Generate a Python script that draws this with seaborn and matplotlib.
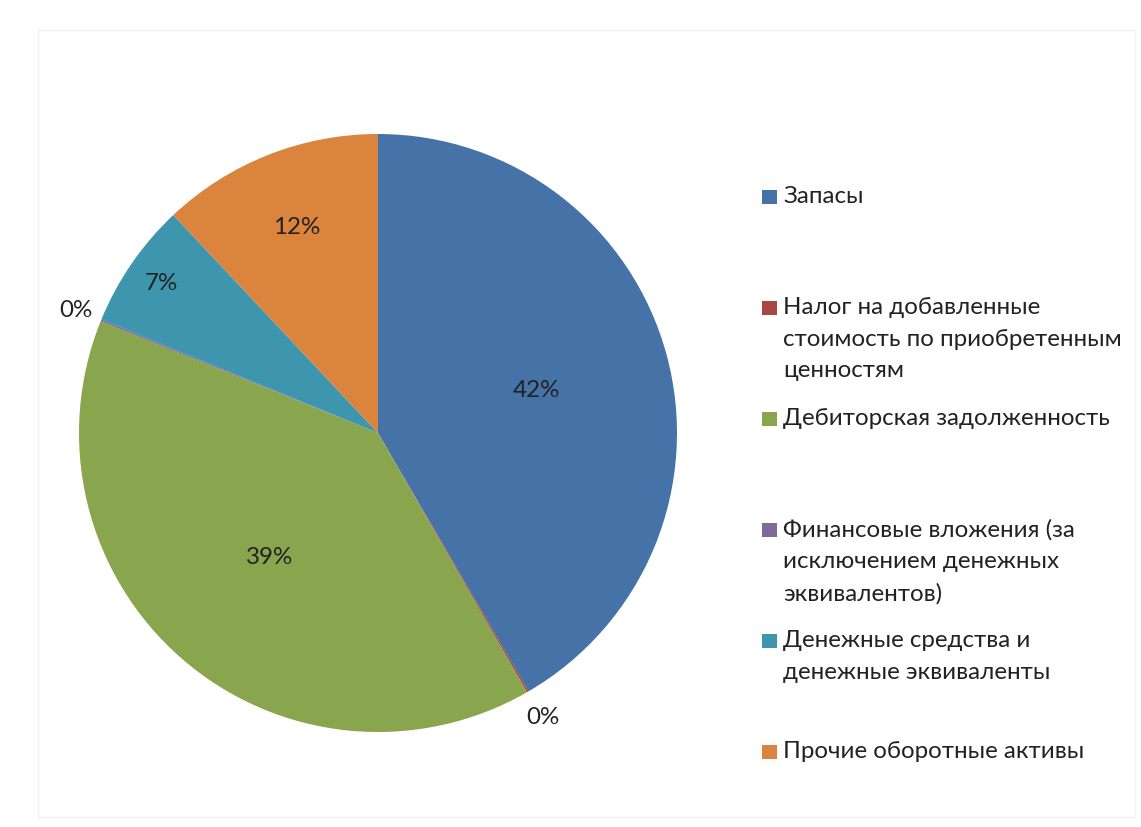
import matplotlib
matplotlib.use("Agg")
import matplotlib.pyplot as plt
import seaborn as sns
import numpy as np
from matplotlib.patches import Rectangle

sns.set_theme(style="white")
plt.rcParams['font.family'] = ['Lato', 'DejaVu Sans']

categories = [
    "Запасы",
    "Налог на добавленные\nстоимость по приобретенным\nценностям",
    "Дебиторская задолженность",
    "Финансовые вложения (за\nисключением денежных\nэквивалентов)",
    "Денежные средства и\nденежные эквиваленты",
    "Прочие оборотные активы",
]
shares = [41.6, 0.1, 39.4, 0.1, 6.8, 12.0]
colors = ["#4572A7", "#AA4643", "#89A54E", "#80699B", "#3D96AE", "#DB843D"]
# radial position of each percentage label (fraction of radius)
label_radius = [0.55, 1.10, 0.55, 1.09, 0.88, 0.74]

W, H = 1141, 827
fig = plt.figure(figsize=(W / 100, H / 100), dpi=100)
fig.patch.set_facecolor("white")

# faint outer frame of the chart area
fig.add_artist(Rectangle((38 / W, 1 - 817 / H), (1135 - 38) / W, (817 - 30) / H,
                         transform=fig.transFigure, fill=False,
                         edgecolor="#f2f2f2", linewidth=1.0))

cx, cy, R = 378, 433, 299
ax = fig.add_axes([(cx - R) / W, (H - cy - R) / H, 2 * R / W, 2 * R / H])
wedges, _ = ax.pie(shares, colors=colors, startangle=90, counterclock=False,
                   wedgeprops=dict(linewidth=0))
ax.set_xlim(-1, 1)
ax.set_ylim(-1, 1)
ax.set_aspect("auto")
ax.axis("off")

fs = 17.4
for w, v, r in zip(wedges, shares, label_radius):
    mid = np.deg2rad((w.theta1 + w.theta2) / 2)
    ax.text(r * np.cos(mid), r * np.sin(mid), f"{v:.0f}%", ha="center", va="center",
            fontsize=fs, color="#222222")

# legend: evenly spaced slots, text anchored to the top of each slot
y0, step = 196, 111
for i, (lab, c) in enumerate(zip(categories, colors)):
    yy = y0 + i * step
    fig.add_artist(Rectangle((762 / W, 1 - (yy + 8) / H), 15 / W, 14 / H,
                             transform=fig.transFigure, facecolor=c, edgecolor="none"))
    fig.text(783 / W, 1 - (yy - 10) / H, lab, ha="left", va="top", fontsize=fs,
             color="#222222", linespacing=1.62)

fig.savefig("out.png", dpi=100, facecolor="white")
